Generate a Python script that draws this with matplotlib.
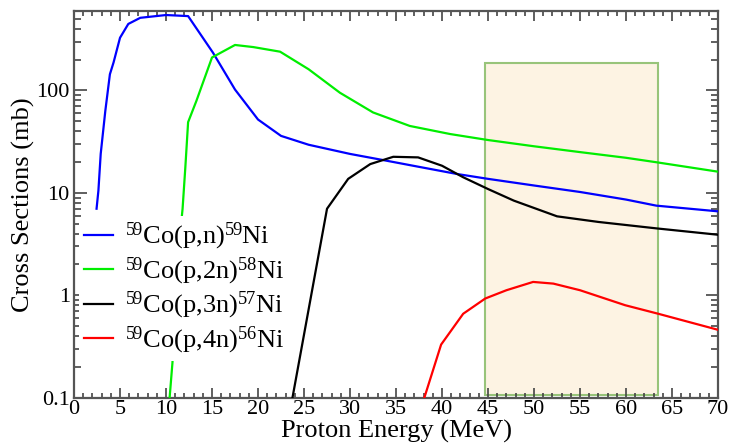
import matplotlib
matplotlib.use("Agg")
import matplotlib.pyplot as plt
from matplotlib.patches import Rectangle
from matplotlib.ticker import MultipleLocator, LogLocator, FixedLocator, NullFormatter

plt.rcParams['font.family'] = ['Liberation Serif', 'DejaVu Serif']
plt.rcParams['mathtext.fontset'] = 'custom'
plt.rcParams['mathtext.rm'] = 'Liberation Serif'
plt.rcParams['mathtext.it'] = 'Liberation Serif:italic'

# 59Co(p,n)59Ni
e_pn = [2.45, 2.65, 2.9, 3.4, 3.9, 4.3, 5.0, 5.9, 7.2, 10.0, 12.4, 15.1, 17.5, 20.0,
        22.5, 25.5, 30.0, 33.6, 37.0, 41.6, 45.0, 50.0, 55.0, 60.0, 63.3, 70.0]
xs_pn = [7.0, 10.5, 24, 63, 144, 188, 327, 446, 512, 545, 532, 234, 102, 52,
         36, 29.5, 24, 20.9, 18.3, 15.3, 13.7, 11.8, 10.2, 8.6, 7.5, 6.6]

# 59Co(p,2n)58Ni
e_p2n = [10.35, 10.7, 11.0, 11.4, 11.8, 12.1, 12.4, 13.3, 15.0, 17.5, 19.5, 22.4, 25.5,
         28.9, 32.5, 36.5, 40.9, 45.0, 50.0, 55.0, 60.0, 63.3, 70.0]
xs_p2n = [0.09, 0.22, 0.8, 3.0, 7.0, 17.8, 49, 79, 210, 278, 265, 239, 161,
          95, 61, 45, 37.5, 32.8, 28.5, 25.0, 22.0, 19.9, 16.1]

# 59Co(p,3n)57Ni
e_p3n = [23.7, 27.5, 29.8, 32.2, 34.7, 37.4, 40.0, 42.3, 45.0, 47.8, 52.5, 57.0, 63.3, 70.0]
xs_p3n = [0.095, 7.0, 13.7, 19.1, 22.5, 22.2, 18.4, 14.2, 10.9, 8.4, 5.9, 5.2, 4.5, 3.9]

# 59Co(p,4n)56Ni
e_p4n = [38.0, 39.9, 42.3, 44.7, 47.0, 49.9, 52.1, 55.0, 59.9, 63.5, 70.0]
xs_p4n = [0.095, 0.33, 0.66, 0.93, 1.12, 1.35, 1.30, 1.12, 0.80, 0.66, 0.46]

labels = ['$^{59}$Co(p,n)$^{59}$Ni', '$^{59}$Co(p,2n)$^{58}$Ni',
          '$^{59}$Co(p,3n)$^{57}$Ni', '$^{59}$Co(p,4n)$^{56}$Ni']
colors = ['#0000ff', '#00ee00', '#000000', '#ff0000']

# highlighted energy window
box_e = (44.7, 63.5)
box_xs = (0.107, 186)

fig = plt.figure(figsize=(7.3, 4.48), dpi=100)
ax = fig.add_axes([0.1014, 0.1123, 0.8822, 0.8637])

ax.add_patch(Rectangle((box_e[0], box_xs[0]), box_e[1] - box_e[0], box_xs[1] - box_xs[0],
                       facecolor='#fdf3e3', edgecolor='#98c47a', linewidth=1.5, zorder=1))

series = [(e_pn, xs_pn), (e_p2n, xs_p2n), (e_p3n, xs_p3n), (e_p4n, xs_p4n)]
for (e, xs), lab, col in zip(series, labels, colors):
    ax.plot(e, xs, color=col, linewidth=1.6, label=lab, zorder=3)

ax.set_yscale('log')
ax.set_xlim(0, 70)
ax.set_ylim(0.1, 600)

ax.xaxis.set_major_locator(MultipleLocator(5))
ax.xaxis.set_minor_locator(MultipleLocator(1))
ax.yaxis.set_major_locator(FixedLocator([0.1, 1, 10, 100]))
ax.yaxis.set_minor_locator(LogLocator(base=10, subs=range(2, 10)))
ax.yaxis.set_minor_formatter(NullFormatter())
ax.set_yticklabels(['0.1', '1', '10', '100'])

ax.tick_params(axis='both', which='both', direction='in', top=True, right=True,
               colors='#444444', labelcolor='black', labelsize=16, width=1.2)
ax.tick_params(axis='x', which='major', length=7.5, pad=2)
ax.tick_params(axis='x', which='minor', length=3.6)
ax.tick_params(axis='y', which='major', length=9, pad=3)
ax.tick_params(axis='y', which='minor', length=5)
for sp in ax.spines.values():
    sp.set_color('#555555')
    sp.set_linewidth(1.6)

ax.set_xlabel('Proton Energy (MeV)', fontsize=19, labelpad=0)
ax.set_ylabel('Cross Sections (mb)', fontsize=19, labelpad=1)

leg = ax.legend(loc='upper left', bbox_to_anchor=(0.008, 0.47), fontsize=19,
                frameon=True, facecolor='white', edgecolor='none', framealpha=1,
                handlelength=1.1, handletextpad=0.45, labelspacing=0.12,
                borderaxespad=0, borderpad=0.2)
leg.set_zorder(5)

fig.savefig('out.png', dpi=100)
